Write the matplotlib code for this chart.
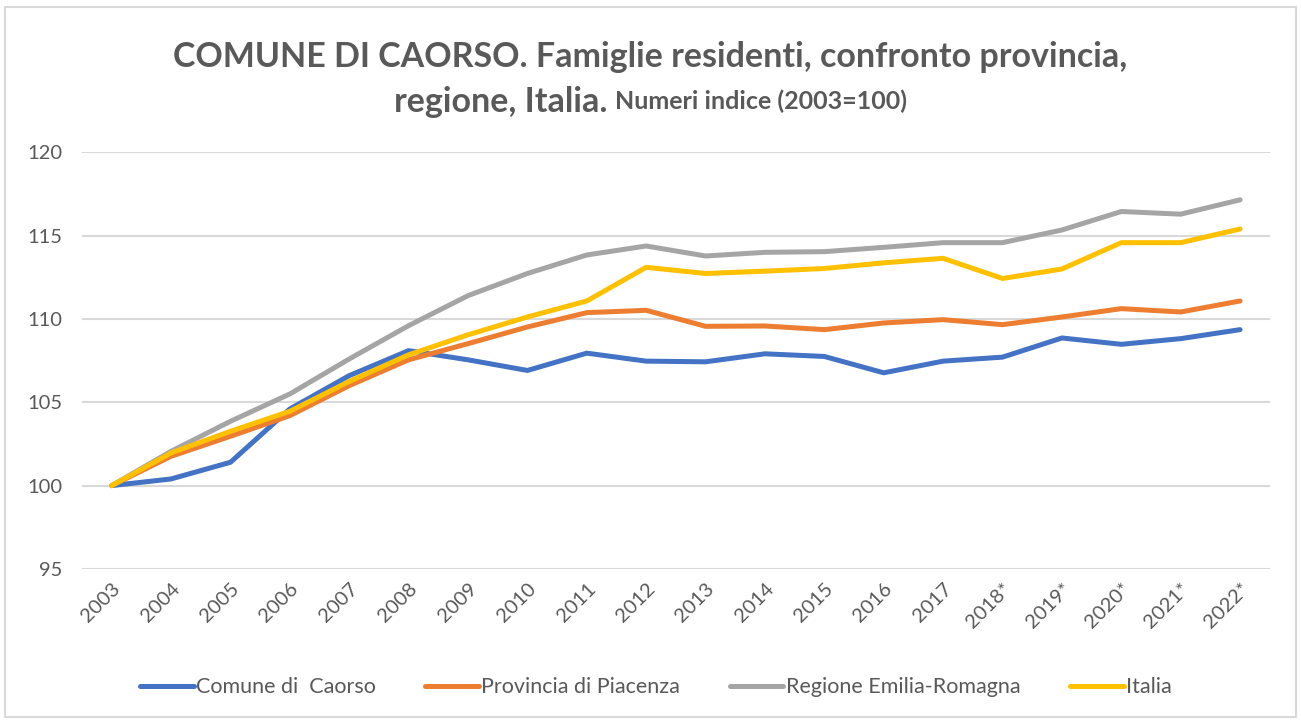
import matplotlib
matplotlib.use("Agg")
import matplotlib.pyplot as plt
from matplotlib.patches import Rectangle

years = ["2003", "2004", "2005", "2006", "2007", "2008", "2009", "2010", "2011", "2012",
         "2013", "2014", "2015", "2016", "2017", "2018*", "2019*", "2020*", "2021*", "2022*"]
comune = [100, 100.4, 101.4, 104.6, 106.6, 108.1, 107.55, 106.91, 107.95, 107.47,
          107.43, 107.91, 107.75, 106.77, 107.47, 107.71, 108.86, 108.48, 108.82, 109.36]
provincia = [100, 101.76, 102.96, 104.2, 106.0, 107.55, 108.52, 109.52, 110.38, 110.52,
             109.56, 109.58, 109.36, 109.76, 109.96, 109.66, 110.12, 110.62, 110.42, 111.08]
regione = [100, 102.06, 103.86, 105.5, 107.6, 109.6, 111.4, 112.73, 113.84, 114.38,
           113.78, 114.0, 114.04, 114.3, 114.58, 114.58, 115.34, 116.45, 116.29, 117.15]
italia = [100, 101.96, 103.26, 104.46, 106.25, 107.85, 109.05, 110.12, 111.08, 113.1,
          112.73, 112.87, 113.03, 113.37, 113.64, 112.43, 113.0, 114.58, 114.58, 115.4]
series_names = ["Comune di  Caorso", "Provincia di Piacenza", "Regione Emilia-Romagna", "Italia"]
colors = ["#4472C4", "#ED7D31", "#A5A5A5", "#FFC000"]

plt.rcParams['font.family'] = ['Lato', 'DejaVu Sans']
txt = "#595959"

fig = plt.figure(figsize=(13.01, 7.22), dpi=100)
ax = fig.add_axes([0.063, 0.212, 0.913, 0.577])

x = list(range(len(years)))
for vals, name, c in zip([comune, provincia, regione, italia], series_names, colors):
    ax.plot(x, vals, color=c, lw=3.6, label=name, solid_capstyle="round", solid_joinstyle="round")

ax.set_xlim(-0.5, len(years) - 0.5)
ax.set_ylim(95, 120)
ax.set_yticks([95, 100, 105, 110, 115, 120])
ax.set_xticks(x)
ax.set_xticklabels(years, rotation=45, ha="right", rotation_mode="anchor")
ax.tick_params(length=0, colors=txt)
ax.tick_params(axis="x", labelsize=14.5, pad=8)
ax.tick_params(axis="y", labelsize=14.5, pad=14)
ax.grid(axis="y", color="#d9d9d9", lw=1.5)
ax.set_axisbelow(True)
for s in ax.spines.values():
    s.set_visible(False)

# title: two lines, second with a smaller part
fig.text(0.5, 0.921, "COMUNE DI CAORSO. Famiglie residenti, confronto provincia,",
         ha="center", va="center", fontsize=24.5, fontweight="bold", color=txt)
fig.canvas.draw()
r = fig.canvas.get_renderer()
t1 = fig.text(0, 0.859, "regione, Italia. ", ha="left", va="center", fontsize=24.5,
              fontweight="bold", color=txt)
t2 = fig.text(0, 0.859, "Numeri indice (2003=100)", ha="left", va="center", fontsize=18,
              fontweight="bold", color=txt)
w1 = t1.get_window_extent(r).width / fig.bbox.width
w2 = t2.get_window_extent(r).width / fig.bbox.width
start = 0.5 - (w1 + w2) / 2
t1.set_x(start)
t2.set_x(start + w1)

ax.legend(loc="center", bbox_to_anchor=(0.504, 0.048), bbox_transform=fig.transFigure,
          ncol=4, frameon=False, fontsize=15.5, labelcolor=txt, handlelength=2.5,
          handletextpad=0.1, columnspacing=2.3)

fig.patches.append(Rectangle((0.004, 0.007), 0.992, 0.983, transform=fig.transFigure,
                             fill=False, edgecolor="#d9d9d9", lw=1.5))

fig.savefig("out.png", dpi=100, facecolor="white")
